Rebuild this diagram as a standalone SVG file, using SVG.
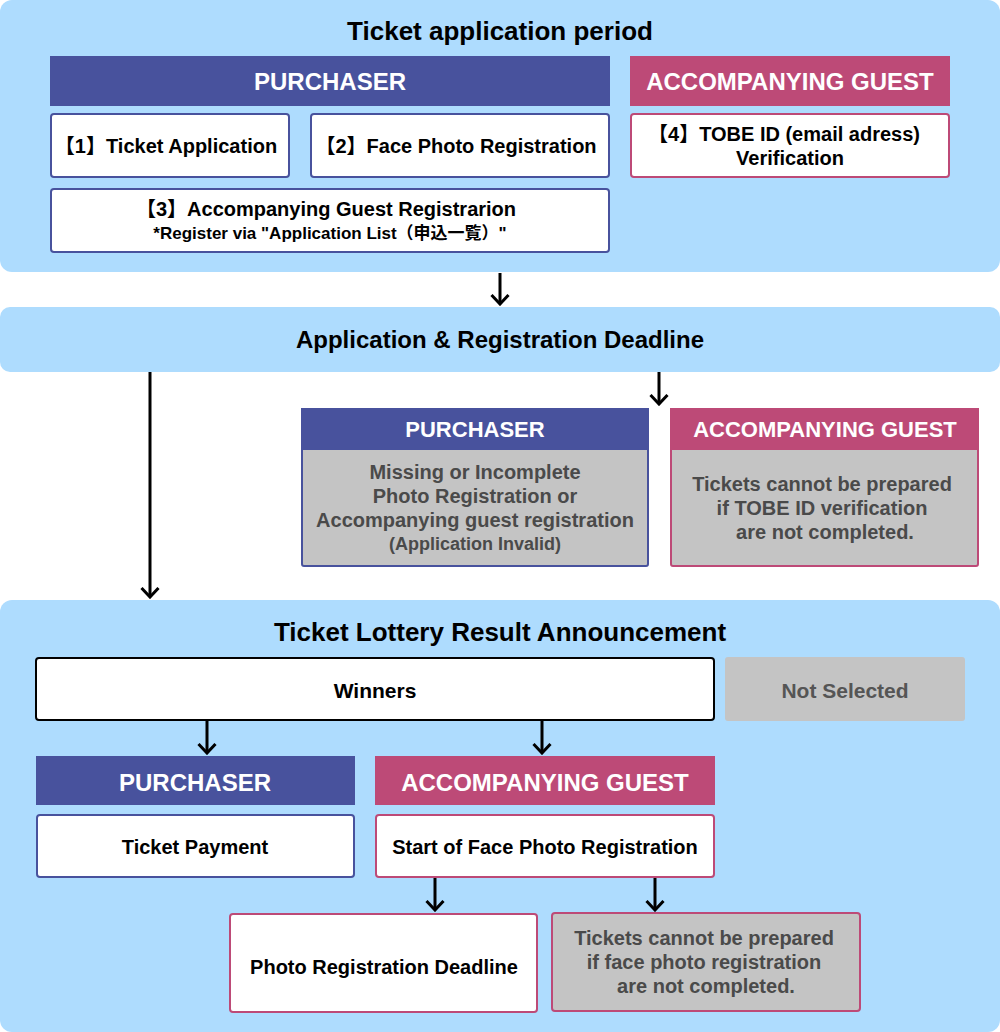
<svg xmlns="http://www.w3.org/2000/svg" width="1000" height="1032" viewBox="0 0 1000 1032">
<defs>
<style>
text{font-family:"Liberation Sans","Noto Sans CJK JP",sans-serif;font-weight:bold;text-anchor:middle;}
.panel{fill:#aedcfe;}
.title{font-size:26px;fill:#000;}
.hdrB{fill:#48529d;}
.hdrP{fill:#bd4a77;}
.hdrT{font-size:24px;fill:#fff;}
.hdrS{font-size:22px;fill:#fff;}
.boxB{fill:#fff;stroke:#48529d;stroke-width:2;}
.boxP{fill:#fff;stroke:#bd4a77;stroke-width:2;}
.grayB{fill:#c4c4c4;stroke:#48529d;stroke-width:2;}
.grayP{fill:#c4c4c4;stroke:#bd4a77;stroke-width:2;}
.t{font-size:20px;fill:#000;}
.ts{font-size:17px;fill:#000;}
.g{font-size:20px;fill:#4a4a4a;}
.gs{font-size:18px;fill:#4a4a4a;}
.conn{stroke:#000;stroke-width:3;fill:none;marker-end:url(#arr);}
</style>
<marker id="arr" viewBox="0 0 12 20" refX="10" refY="10" markerWidth="12" markerHeight="20" markerUnits="userSpaceOnUse" orient="auto">
<polyline points="1,1.5 10,10 1,18.5" fill="none" stroke="#000" stroke-width="3"/>
</marker>
</defs>

<g id="panel-application-period">
<rect class="panel" x="0" y="0" width="1000" height="272" rx="12"/>
<text class="title" x="500" y="40">Ticket application period</text>
</g>
<g id="hdr-purchaser-1">
<rect class="hdrB" x="50" y="56" width="560" height="50"/>
<text class="hdrT" x="330" y="90">PURCHASER</text>
</g>
<g id="hdr-guest-1">
<rect class="hdrP" x="630" y="56" width="320" height="50"/>
<text class="hdrT" x="790" y="90">ACCOMPANYING GUEST</text>
</g>
<g id="step1">
<rect class="boxB" x="51" y="114" width="238" height="63" rx="3"/>
<text class="t" x="166" y="153">【1】Ticket Application</text>
</g>
<g id="step2">
<rect class="boxB" x="311" y="114" width="298" height="63" rx="3"/>
<text class="t" x="456" y="153">【2】Face Photo Registration</text>
</g>
<g id="step3">
<rect class="boxB" x="51" y="189" width="558" height="63" rx="3"/>
<text class="t" x="326" y="216">【3】Accompanying Guest Registrarion</text>
<text class="ts" x="330" y="239">*Register via "Application List（申込一覧）"</text>
</g>
<g id="step4">
<rect class="boxP" x="631" y="114" width="318" height="63" rx="3"/>
<text class="t" x="784" y="141">【4】TOBE ID (email adress)</text>
<text class="t" x="790" y="165">Verification</text>
</g>

<g id="panel-deadline">
<rect class="panel" x="0" y="307" width="1000" height="65" rx="10"/>
<text class="title" x="500" y="348" style="font-size:24px">Application &amp; Registration Deadline</text>
</g>

<g id="invalid-purchaser">
<rect class="grayB" x="302" y="409" width="346" height="157" rx="2"/>
<rect class="hdrB" x="301" y="408" width="348" height="42"/>
<text class="hdrS" x="475" y="437">PURCHASER</text>
<text class="g" x="475" y="479">Missing or Incomplete</text>
<text class="g" x="475" y="503">Photo Registration or</text>
<text class="g" x="475" y="527">Accompanying guest registration</text>
<text class="gs" x="475" y="550">(Application Invalid)</text>
</g>
<g id="invalid-guest">
<rect class="grayP" x="671" y="409" width="307" height="157" rx="2"/>
<rect class="hdrP" x="670" y="408" width="309" height="42"/>
<text class="hdrS" x="825" y="437">ACCOMPANYING GUEST</text>
<text class="g" x="822" y="491">Tickets cannot be prepared</text>
<text class="g" x="822" y="515">if TOBE ID verification</text>
<text class="g" x="825" y="539">are not completed.</text>
</g>

<g id="panel-lottery">
<rect class="panel" x="0" y="600" width="1000" height="432" rx="12"/>
<text class="title" x="500" y="641">Ticket Lottery Result Announcement</text>
</g>
<g id="winners">
<rect x="36" y="658" width="678" height="62" rx="3" fill="#fff" stroke="#000" stroke-width="2"/>
<text class="t" x="375" y="698" style="font-size:21px">Winners</text>
</g>
<g id="not-selected">
<rect x="725" y="657" width="240" height="64" rx="3" fill="#c4c4c4"/>
<text class="g" x="845" y="698" style="font-size:21px;fill:#555">Not Selected</text>
</g>
<g id="hdr-purchaser-3">
<rect class="hdrB" x="36" y="756" width="319" height="49"/>
<text class="hdrT" x="195" y="791">PURCHASER</text>
</g>
<g id="hdr-guest-3">
<rect class="hdrP" x="375" y="756" width="340" height="49"/>
<text class="hdrT" x="545" y="791">ACCOMPANYING GUEST</text>
</g>
<g id="ticket-payment">
<rect class="boxB" x="37" y="815" width="317" height="62" rx="3"/>
<text class="t" x="195" y="854">Ticket Payment</text>
</g>
<g id="start-face-photo">
<rect class="boxP" x="376" y="815" width="338" height="62" rx="3"/>
<text class="t" x="545" y="854">Start of Face Photo Registration</text>
</g>
<g id="photo-deadline">
<rect class="boxP" x="230" y="914" width="307" height="98" rx="3"/>
<text class="t" x="384" y="974">Photo Registration Deadline</text>
</g>
<g id="photo-not-completed">
<rect class="grayP" x="552" y="913" width="308" height="98" rx="3"/>
<text class="g" x="704" y="945">Tickets cannot be prepared</text>
<text class="g" x="704" y="969">if face photo registration</text>
<text class="g" x="706" y="993">are not completed.</text>
</g>

<g id="connectors">
<line class="conn" x1="500" y1="273" x2="500" y2="304"/>
<line class="conn" x1="150" y1="372" x2="150" y2="597"/>
<line class="conn" x1="659" y1="372" x2="659" y2="404"/>
<line class="conn" x1="207" y1="721" x2="207" y2="753"/>
<line class="conn" x1="542" y1="721" x2="542" y2="753"/>
<line class="conn" x1="435" y1="878" x2="435" y2="910"/>
<line class="conn" x1="655" y1="878" x2="655" y2="910"/>
</g>
</svg>
